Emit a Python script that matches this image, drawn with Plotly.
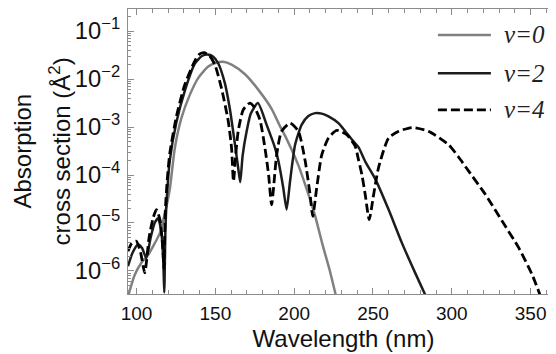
import numpy as np
import plotly.graph_objects as go

# wavelength (nm) and log10 of the absorption cross section (A^2)
wl_v0 = [94.6, 98.9, 103.1, 107.3, 111.6, 114.8, 118.0, 121.1, 124.3, 128.5, 133.8,
         139.1, 145.5, 150.5, 155.0, 160.3, 168.8, 177.2, 185.7, 191.0, 194.2, 202.7,
         208.0, 213.3, 218.0, 222.5, 226.6]
lg_v0 = [-6.53, -6.08, -5.83, -5.67, -5.42, -5.21, -4.80, -4.30, -3.44, -2.81, -2.33,
         -1.98, -1.74, -1.66, -1.64, -1.70, -1.90, -2.22, -2.62, -2.98, -3.18, -3.80,
         -4.30, -4.85, -5.45, -5.98, -6.53]

wl_v2 = [94.6, 97.5, 101.0, 103.5, 106.2, 109.0, 111.5, 113.7, 115.8, 117.0, 117.6,
         118.3, 119.0, 121.1, 125.3, 130.6, 137.0, 141.5, 145.0, 148.5, 151.8, 156.0,
         159.2, 162.4, 164.5, 165.8, 167.3, 169.8, 172.5, 177.0, 182.5, 187.9, 190.0,
         193.1, 195.2, 197.4, 200.6, 204.8, 209.0, 213.3, 217.5, 221.8, 228.1, 232.4,
         236.6, 240.8, 245.1, 251.4, 259.9, 268.4, 276.9, 283.6]
lg_v2 = [-5.90, -5.62, -5.45, -5.52, -5.73, -5.30, -5.00, -4.90, -5.20, -5.80, -6.45,
         -5.20, -4.60, -3.70, -2.90, -2.25, -1.68, -1.52, -1.49, -1.53, -1.67, -2.08,
         -2.62, -3.35, -3.85, -4.15, -3.60, -3.10, -2.72, -2.50, -2.95, -3.44, -3.71,
         -4.27, -4.72, -4.13, -3.37, -2.95, -2.77, -2.71, -2.72, -2.78, -2.92, -3.09,
         -3.26, -3.42, -3.72, -4.08, -4.72, -5.42, -6.05, -6.53]

wl_v4 = [94.6, 97.0, 99.9, 102.5, 105.2, 108.0, 110.5, 112.6, 115.0, 116.8, 117.4,
         118.2, 119.5, 121.1, 125.3, 130.6, 137.0, 140.0, 142.8, 146.0, 149.7, 153.9,
         158.2, 160.3, 161.5, 163.0, 164.5, 167.7, 171.9, 175.0, 178.3, 181.5, 183.8,
         185.7, 188.9, 192.0, 197.4, 202.7, 207.0, 210.1, 211.8, 214.3, 217.5, 221.8,
         227.0, 233.4, 238.7, 240.8, 243.0, 245.1, 247.6, 250.4, 253.5, 259.9, 266.3,
         274.7, 285.3, 298.0, 304.4, 310.7, 321.4, 331.9, 342.5, 351.0, 356.3]
lg_v4 = [-5.59, -5.42, -5.38, -5.60, -6.04, -5.30, -4.90, -4.72, -4.95, -5.60, -5.95,
         -4.80, -4.10, -3.55, -2.78, -2.12, -1.62, -1.48, -1.45, -1.50, -1.70, -2.19,
         -2.88, -3.44, -4.13, -3.55, -3.09, -2.64, -2.50, -2.60, -2.85, -3.44, -4.00,
         -4.62, -3.58, -3.09, -2.92, -3.09, -3.71, -4.41, -4.86, -4.27, -3.58, -3.23,
         -3.07, -3.16, -3.40, -3.68, -4.00, -4.41, -4.93, -4.41, -3.85, -3.23, -3.09,
         -3.01, -3.09, -3.37, -3.63, -3.92, -4.41, -4.96, -5.52, -6.08, -6.53]

series = [
    ("v=0", wl_v0, lg_v0, dict(color="#808080", width=2.5)),
    ("v=2", wl_v2, lg_v2, dict(color="#1c1c1c", width=2.5)),
    ("v=4", wl_v4, lg_v4, dict(color="#000000", width=2.8, dash="9px,4px")),
]

fig = go.Figure()
for name, wl, lg, line in series:
    fig.add_trace(go.Scatter(x=wl, y=10 ** np.array(lg), name=name, mode="lines",
                             line=dict(shape="spline", smoothing=0.6, **line),
                             showlegend=False))

# hand-drawn legend (longer line samples than plotly's own legend allows)
legend_rows = [0.909, 0.775, 0.646]
shapes, annotations = [], []
for (name, _, _, line), ly in zip(series, legend_rows):
    shapes.append(dict(type="line", xref="paper", yref="paper",
                       x0=0.719, x1=0.842, y0=ly, y1=ly, line=line))
    annotations.append(dict(text="<i>%s</i>" % name, xref="paper", yref="paper",
                            x=0.868, y=ly, xanchor="left", yanchor="middle",
                            showarrow=False,
                            font=dict(family="Liberation Serif, Times New Roman",
                                      size=25, color="#222")))

annotations += [
    dict(text="Absorption", xref="paper", yref="paper", x=-0.2459, y=0.5,
         xanchor="center", yanchor="middle", textangle=-90, showarrow=False,
         font=dict(size=24, color="#111")),
    dict(text="cross section (Å<sup>2</sup>)", xref="paper", yref="paper",
         x=-0.158, y=0.5, xanchor="center", yanchor="middle", textangle=-90,
         showarrow=False, font=dict(size=24, color="#111")),
]

axis_common = dict(
    showline=True, linecolor="#8c8c8c", linewidth=1, mirror="ticks",
    ticks="inside", ticklen=6, tickcolor="#8c8c8c", tickwidth=1,
    showgrid=False, zeroline=False,
    tickfont=dict(family="Liberation Sans, Arial", size=19, color="#111"),
)

fig.update_layout(
    width=556, height=354,
    margin=dict(l=120, r=5, t=1, b=68),
    paper_bgcolor="white", plot_bgcolor="white",
    font=dict(family="Liberation Sans, Arial", color="#111"),
    showlegend=False,
    xaxis=dict(range=[94.6, 368], dtick=50, tick0=0, ticklabelstandoff=2,
               minor=dict(dtick=10, ticks="inside", ticklen=4, tickcolor="#8c8c8c"),
               title=dict(text="Wavelength (nm)", font=dict(size=24), standoff=7),
               **axis_common),
    yaxis=dict(type="log", range=[-6.48, -0.54], dtick=1, exponentformat="power",
               ticklabelstandoff=3,
               minor=dict(ticks="inside", ticklen=3, tickcolor="#8c8c8c"),
               **axis_common),
    shapes=shapes,
    annotations=annotations,
)

fig.write_html("out.html")
